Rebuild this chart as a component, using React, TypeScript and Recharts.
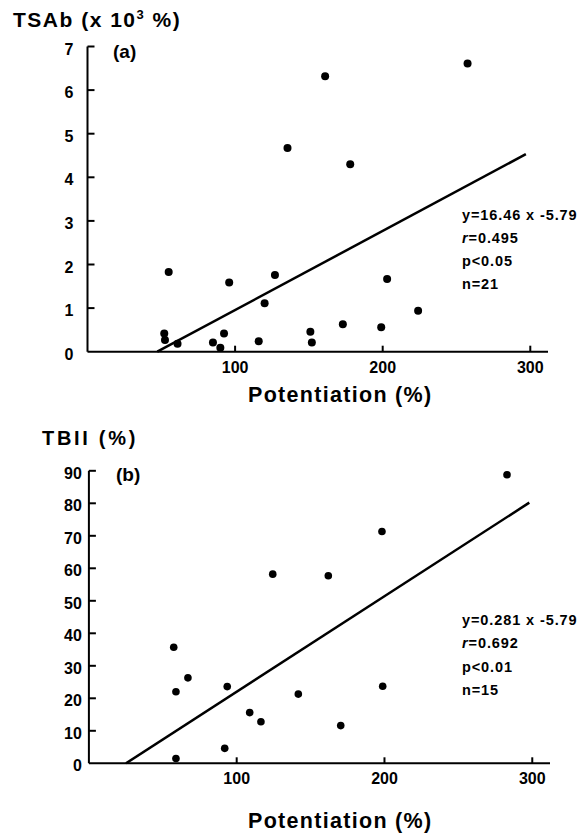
import { ScatterChart, Scatter, XAxis, YAxis, ReferenceLine } from 'recharts';

// (a) TSAb vs potentiation
const tsabPotentiation = [52, 52.5, 55, 61, 85, 90, 92.5, 96, 116, 120, 127, 135.5, 151, 152, 161, 173, 178, 199, 203, 224, 257.5];
const tsabValues = [0.42, 0.27, 1.83, 0.18, 0.21, 0.09, 0.42, 1.59, 0.24, 1.11, 1.76, 4.67, 0.46, 0.21, 6.32, 0.63, 4.3, 0.56, 1.67, 0.94, 6.61];
const tsabFitX = [47.3, 297];
const tsabFitY = [0, 4.53];
const tsabYTicks = [0, 1, 2, 3, 4, 5, 6, 7];
const tsabStats = ['y=16.46 x -5.79', '=0.495', 'p<0.05', 'n=21'];

// (b) TBII vs potentiation
const tbiiPotentiation = [57.4, 58.9, 58.9, 67, 91.9, 93.6, 108.8, 116.4, 124.4, 141.7, 162, 170.4, 198.3, 198.8, 282.9];
const tbiiValues = [35.7, 22.0, 1.5, 26.3, 4.6, 23.6, 15.6, 12.8, 58.2, 21.3, 57.7, 11.6, 71.3, 23.7, 88.8];
const tbiiFitX = [25.1, 298];
const tbiiFitY = [0, 80.2];
const tbiiYTicks = [0, 10, 20, 30, 40, 50, 60, 70, 80, 90];
const tbiiStats = ['y=0.281 x -5.79', '=0.692', 'p<0.01', 'n=15'];

const xTicks = [100, 200, 300];

const FONT = '"Liberation Sans", Arial, sans-serif';
const TICK_COLOR = '#000';

const toPoints = (xs: number[], ys: number[]) => xs.map((x, i) => ({ x, y: ys[i] }));

// ticks point inward; the label anchor sits on the axis line
const XTick = (props: any) => {
    const { x, y, payload } = props;
    return (
        <g>
            <line x1={x} y1={y} x2={x} y2={y - 6} stroke={TICK_COLOR} strokeWidth={2} />
            <text x={x} y={y + 21} textAnchor="middle" fontFamily={FONT} fontWeight="bold" fontSize={16} fill="#000">
                {payload.value}
            </text>
        </g>
    );
};

const makeYTick = (gap: number) => (props: any) => {
    const { x, y, payload } = props;
    return (
        <g>
            {payload.value !== 0 && <line x1={x} y1={y} x2={x + 7} y2={y} stroke={TICK_COLOR} strokeWidth={2} />}
            <text x={x - gap} y={y + 8} textAnchor="end" fontFamily={FONT} fontWeight="bold" fontSize={16} fill="#000">
                {payload.value}
            </text>
        </g>
    );
};

const Dot = (r: number) => (props: any) => <circle cx={props.cx} cy={props.cy} r={r} fill="#000" />;

interface PanelProps {
    xs: number[];
    ys: number[];
    fitX: number[];
    fitY: number[];
    yTicks: number[];
    yMax: number;
    height: number;
    margin: { top: number; left: number; right: number; bottom: number };
    labelGap: number;
    dotR: number;
}

const Panel = ({ xs, ys, fitX, fitY, yTicks, yMax, height, margin, labelGap, dotR }: PanelProps) => (
    <ScatterChart width={577} height={height} margin={margin}>
        <XAxis
            type="number"
            dataKey="x"
            domain={[0, 312]}
            ticks={xTicks}
            interval={0}
            height={30}
            tickSize={0}
            tickMargin={0}
            tickLine={false}
            axisLine={{ stroke: '#000', strokeWidth: 2 }}
            tick={<XTick />}
        />
        <YAxis
            type="number"
            dataKey="y"
            domain={[0, yMax]}
            ticks={yTicks}
            interval={0}
            width={60}
            tickSize={0}
            tickMargin={0}
            tickLine={false}
            axisLine={{ stroke: '#000', strokeWidth: 2 }}
            tick={makeYTick(labelGap)}
        />
        <ReferenceLine
            segment={[{ x: fitX[0], y: fitY[0] }, { x: fitX[1], y: fitY[1] }]}
            stroke="#000"
            strokeWidth={2.5}
        />
        <Scatter data={toPoints(xs, ys)} shape={Dot(dotR)} isAnimationActive={false} />
    </ScatterChart>
);

const textStyle = { fontFamily: FONT, fontWeight: 'bold' as const, fill: '#000' };

const Stats = ({ lines, x, baselines }: { lines: string[]; x: number; baselines: number[] }) => (
    <g>
        {lines.map((t, i) => (
            <text key={i} x={x} y={baselines[i]} fontSize={14.5} style={{ letterSpacing: '0.9px' }} {...textStyle}>
                {i === 1 ? (
                    <>
                        <tspan fontStyle="italic">r</tspan>
                        {t}
                    </>
                ) : t}
            </text>
        ))}
    </g>
);

const App = () => {
    return (
        <div style={{ position: 'absolute', left: 0, top: 0, width: 577, height: 834, background: '#fff' }}>
            <div style={{ position: 'absolute', left: 0, top: 0 }}>
                <Panel
                    xs={tsabPotentiation}
                    ys={tsabValues}
                    fitX={tsabFitX}
                    fitY={tsabFitY}
                    yTicks={tsabYTicks}
                    yMax={7}
                    height={420}
                    margin={{ top: 46.5, left: 27.5, right: 29, bottom: 38.3 }}
                    labelGap={14}
                    dotR={4}
                />
            </div>
            <div style={{ position: 'absolute', left: 0, top: 420 }}>
                <Panel
                    xs={tbiiPotentiation}
                    ys={tbiiValues}
                    fitX={tbiiFitX}
                    fitY={tbiiFitY}
                    yTicks={tbiiYTicks}
                    yMax={90}
                    height={414}
                    margin={{ top: 50.8, left: 28.9, right: 27, bottom: 40.7 }}
                    labelGap={7}
                    dotR={3.8}
                />
            </div>
            <svg width={577} height={834} style={{ position: 'absolute', left: 0, top: 0, pointerEvents: 'none' }}>
                <text x={13} y={27} fontSize={21} style={{ letterSpacing: '1.5px' }} {...textStyle}>
                    TSAb  (x 10<tspan fontSize={13} dy={-8}>3</tspan><tspan dy={8}> %)</tspan>
                </text>
                <text x={113} y={58} fontSize={19} {...textStyle}>(a)</text>
                <text x={248} y={402} fontSize={21.5} style={{ letterSpacing: '1.3px' }} {...textStyle}>Potentiation (%)</text>
                <Stats lines={tsabStats} x={462} baselines={[220, 242.7, 265.7, 289.3]} />

                <text x={42} y={445} fontSize={20} style={{ letterSpacing: '2.7px' }} {...textStyle}>TBII (%)</text>
                <text x={116} y={481} fontSize={19} {...textStyle}>(b)</text>
                <text x={248} y={828} fontSize={21.5} style={{ letterSpacing: '1.3px' }} {...textStyle}>Potentiation (%)</text>
                <Stats lines={tbiiStats} x={462} baselines={[625, 648, 672, 695]} />
            </svg>
        </div>
    );
};

export default App;
